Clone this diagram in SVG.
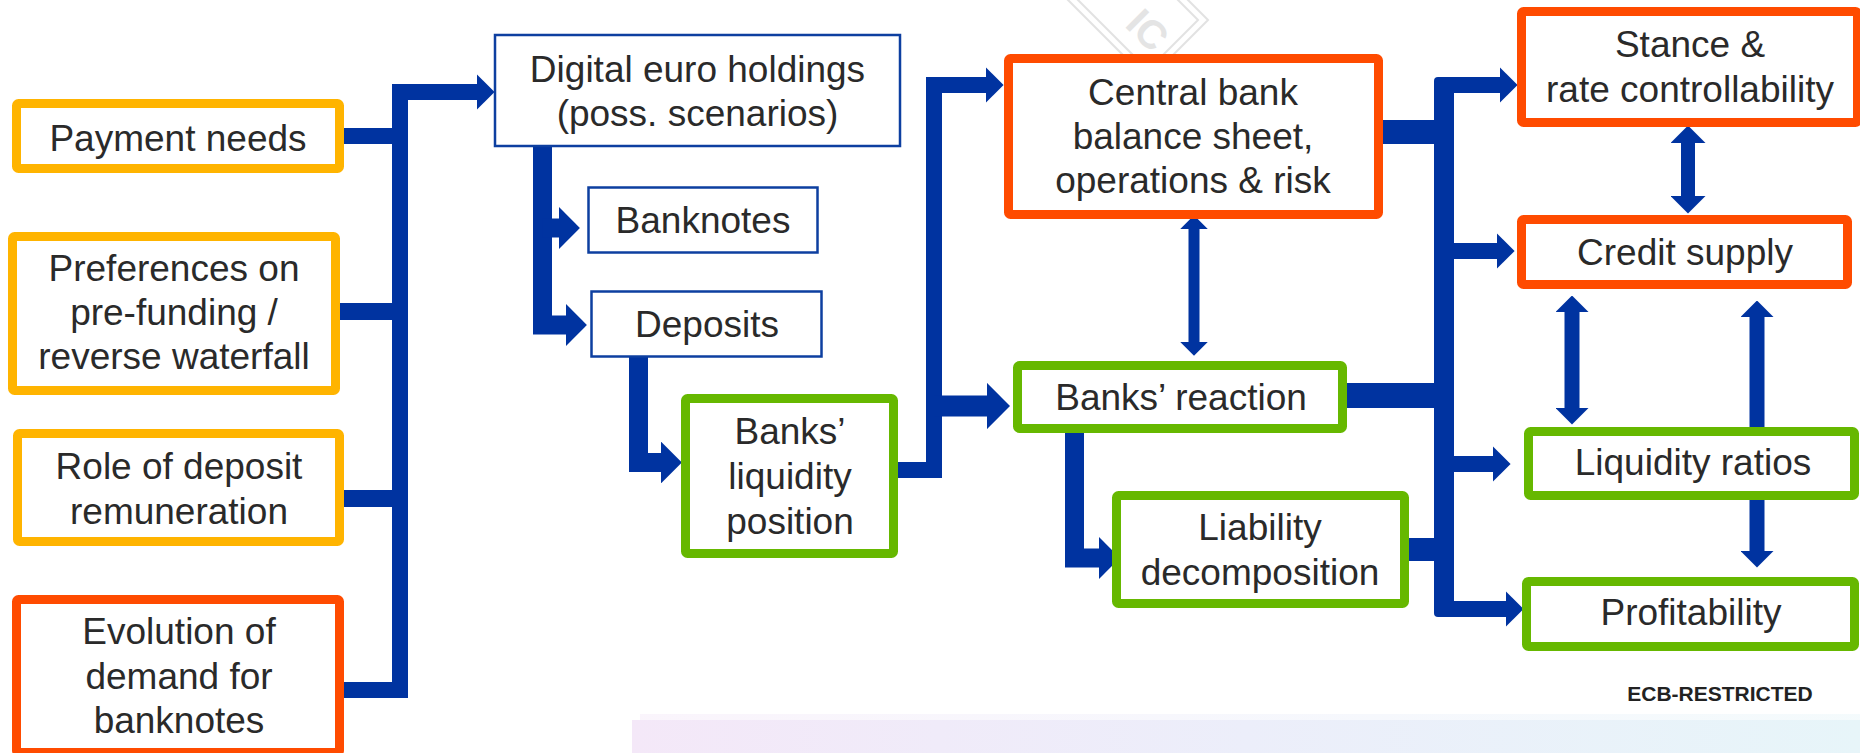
<svg xmlns="http://www.w3.org/2000/svg" width="1860" height="753" viewBox="0 0 1860 753">
<style>
  .t { font-family: "Liberation Sans", Arial, sans-serif; font-size: 37px; fill: #2a2a2a; text-anchor: middle; }
  .amber { fill: #ffffff; stroke: #FFB400; stroke-width: 9; }
  .red { fill: #ffffff; stroke: #FF4B00; stroke-width: 9; }
  .green { fill: #ffffff; stroke: #66B800; stroke-width: 9; }
  .thin { fill: #ffffff; stroke: #0D3FA0; stroke-width: 2.5; }
  .c { fill: none; stroke: #0033A0; stroke-linejoin: miter; }
  .wm { fill: none; stroke: #e2e2e2; stroke-width: 2; }
</style>
<defs>
  <marker id="ah" viewBox="0 0 10 20" refX="0" refY="10" markerWidth="1.1" markerHeight="2.2" markerUnits="strokeWidth" orient="auto-start-reverse">
    <path d="M0,0 L10,10 L0,20 Z" fill="#0033A0"/>
  </marker>
  <marker id="ah2" viewBox="0 0 10 20" refX="0" refY="10" markerWidth="1.25" markerHeight="2.5" markerUnits="strokeWidth" orient="auto-start-reverse">
    <path d="M0,0 L10,10 L0,20 Z" fill="#0033A0"/>
  </marker>
  <linearGradient id="band" x1="0" y1="0" x2="1" y2="0">
    <stop offset="0" stop-color="#F4E8F8"/>
    <stop offset="0.5" stop-color="#ECEEFA"/>
    <stop offset="1" stop-color="#E7F5F9"/>
  </linearGradient>
</defs>

<rect width="1860" height="753" fill="#ffffff"/>
<g id="background">
  <rect x="640" y="714" width="1220" height="6" fill="url(#band)" opacity="0.45"/>
  <rect x="632" y="720" width="1228" height="33" fill="url(#band)"/>
</g>

<g id="watermark">
  <polyline class="wm" points="1048,-20 1148,80 1208,20 1180,-8"/>
  <polyline class="wm" points="1058,-20 1148,70 1198,20 1172,-6"/>
  <text x="1152" y="54" transform="rotate(45 1152 54)" font-family="Liberation Sans, Arial, sans-serif" font-weight="bold" font-size="40" fill="#e4e4e4" text-anchor="end">IC</text>
</g>

<g id="connectors">
  <!-- left inputs to digital euro holdings -->
  <path class="c" stroke-width="16" d="M339,690 H400 V92 H477" stroke-linejoin="round" marker-end="url(#ah)"/>
  <path class="c" stroke-width="16" d="M339,136 H400"/>
  <path class="c" stroke-width="17" d="M335,311.5 H400"/>
  <path class="c" stroke-width="17" d="M339,498.5 H400"/>
  <!-- digital euro -> banknotes / deposits -->
  <path class="c" stroke-width="19" d="M542.5,146 V325 H566" marker-end="url(#ah)"/>
  <path class="c" stroke-width="19" d="M542.5,228 H559" marker-end="url(#ah)"/>
  <!-- deposits -> banks' liquidity position -->
  <path class="c" stroke-width="19" d="M638.5,356 V462.5 H661" marker-end="url(#ah)"/>
  <!-- banks' liquidity -> central bank / banks' reaction -->
  <path class="c" stroke-width="16" d="M896,470 H934 V85 H986" stroke-linejoin="round" marker-end="url(#ah)"/>
  <path class="c" stroke-width="21" d="M934,406 H987" marker-end="url(#ah)"/>
  <!-- central bank <-> banks' reaction -->
  <path class="c" stroke-width="11" d="M1194,229 V342" marker-start="url(#ah2)" marker-end="url(#ah2)"/>
  <!-- banks' reaction -> liability decomposition -->
  <path class="c" stroke-width="19" d="M1074.5,431 V558 H1099" marker-end="url(#ah)"/>
  <!-- into right bus -->
  <path class="c" stroke-width="24" d="M1378,132 H1444"/>
  <path class="c" stroke-width="25" d="M1343,395.5 H1444"/>
  <path class="c" stroke-width="23" d="M1405,549.5 H1444"/>
  <rect x="1434" y="77" width="20" height="540" rx="4" fill="#0033A0"/>
  <!-- right bus -> outcomes -->
  <path class="c" stroke-width="16" d="M1440,85 H1500" marker-end="url(#ah)"/>
  <path class="c" stroke-width="16" d="M1450,251 H1497" marker-end="url(#ah)"/>
  <path class="c" stroke-width="16" d="M1450,464 H1493" marker-end="url(#ah)"/>
  <path class="c" stroke-width="16" d="M1440,609 H1506" marker-end="url(#ah)"/>
  <!-- outcome interactions -->
  <path class="c" stroke-width="14" d="M1688,143 V196" marker-start="url(#ah2)" marker-end="url(#ah2)"/>
  <path class="c" stroke-width="15" d="M1572,312 V408" marker-start="url(#ah)" marker-end="url(#ah)"/>
  <path class="c" stroke-width="15" d="M1757,317 V551" marker-start="url(#ah)" marker-end="url(#ah)"/>
</g>

<g id="payment-needs">
  <rect class="amber" x="16.5" y="103.5" width="323" height="65" rx="2"/>
  <text class="t" x="178" y="151">Payment needs</text>
</g>
<g id="preferences">
  <rect class="amber" x="12.5" y="236.5" width="323" height="154" rx="2"/>
  <text class="t" x="174" y="281">Preferences on</text>
  <text class="t" x="174" y="325">pre-funding /</text>
  <text class="t" x="174" y="369">reverse waterfall</text>
</g>
<g id="deposit-remuneration">
  <rect class="amber" x="17.5" y="433.5" width="322" height="108" rx="2"/>
  <text class="t" x="179" y="479">Role of deposit</text>
  <text class="t" x="179" y="524">remuneration</text>
</g>
<g id="banknote-demand">
  <rect class="red" x="16.5" y="599.5" width="323" height="153" rx="2"/>
  <text class="t" x="179" y="644">Evolution of</text>
  <text class="t" x="179" y="689">demand for</text>
  <text class="t" x="179" y="733">banknotes</text>
</g>

<g id="digital-euro-holdings">
  <rect class="thin" x="495" y="35" width="405" height="111"/>
  <text class="t" x="697.5" y="82">Digital euro holdings</text>
  <text class="t" x="697.5" y="126">(poss. scenarios)</text>
</g>
<g id="banknotes">
  <rect class="thin" x="588.5" y="187.5" width="229" height="65"/>
  <text class="t" x="703" y="233">Banknotes</text>
</g>
<g id="deposits">
  <rect class="thin" x="591.5" y="291.5" width="230" height="65"/>
  <text class="t" x="707" y="337">Deposits</text>
</g>
<g id="banks-liquidity-position">
  <rect class="green" x="685.5" y="398.5" width="208" height="155" rx="2"/>
  <text class="t" x="790" y="444">Banks’</text>
  <text class="t" x="790" y="489">liquidity</text>
  <text class="t" x="790" y="534">position</text>
</g>

<g id="central-bank">
  <rect class="red" x="1008.5" y="58.5" width="370" height="156" rx="2"/>
  <text class="t" x="1193" y="105">Central bank</text>
  <text class="t" x="1193" y="149">balance sheet,</text>
  <text class="t" x="1193" y="193">operations &amp; risk</text>
</g>
<g id="banks-reaction">
  <rect class="green" x="1017.5" y="365.5" width="325" height="63" rx="2"/>
  <text class="t" x="1181" y="410">Banks’ reaction</text>
</g>
<g id="liability-decomposition">
  <rect class="green" x="1116.5" y="495.5" width="288" height="108" rx="2"/>
  <text class="t" x="1260" y="540">Liability</text>
  <text class="t" x="1260" y="585">decomposition</text>
</g>

<g id="stance">
  <rect class="red" x="1521.5" y="11.5" width="336" height="111" rx="2"/>
  <text class="t" x="1690" y="57">Stance &amp;</text>
  <text class="t" x="1690" y="102">rate controllability</text>
</g>
<g id="credit-supply">
  <rect class="red" x="1521.5" y="219.5" width="326" height="65" rx="2"/>
  <text class="t" x="1685" y="265">Credit supply</text>
</g>
<g id="liquidity-ratios">
  <rect class="green" x="1528.5" y="431.5" width="326" height="64" rx="2"/>
  <text class="t" x="1693" y="475">Liquidity ratios</text>
</g>
<g id="profitability">
  <rect class="green" x="1526.5" y="581.5" width="328" height="65" rx="2"/>
  <text class="t" x="1691" y="625">Profitability</text>
</g>

<text id="classification" x="1720" y="701" font-family="Liberation Sans, Arial, sans-serif" font-weight="bold" font-size="21" fill="#222222" text-anchor="middle">ECB-RESTRICTED</text>
</svg>
